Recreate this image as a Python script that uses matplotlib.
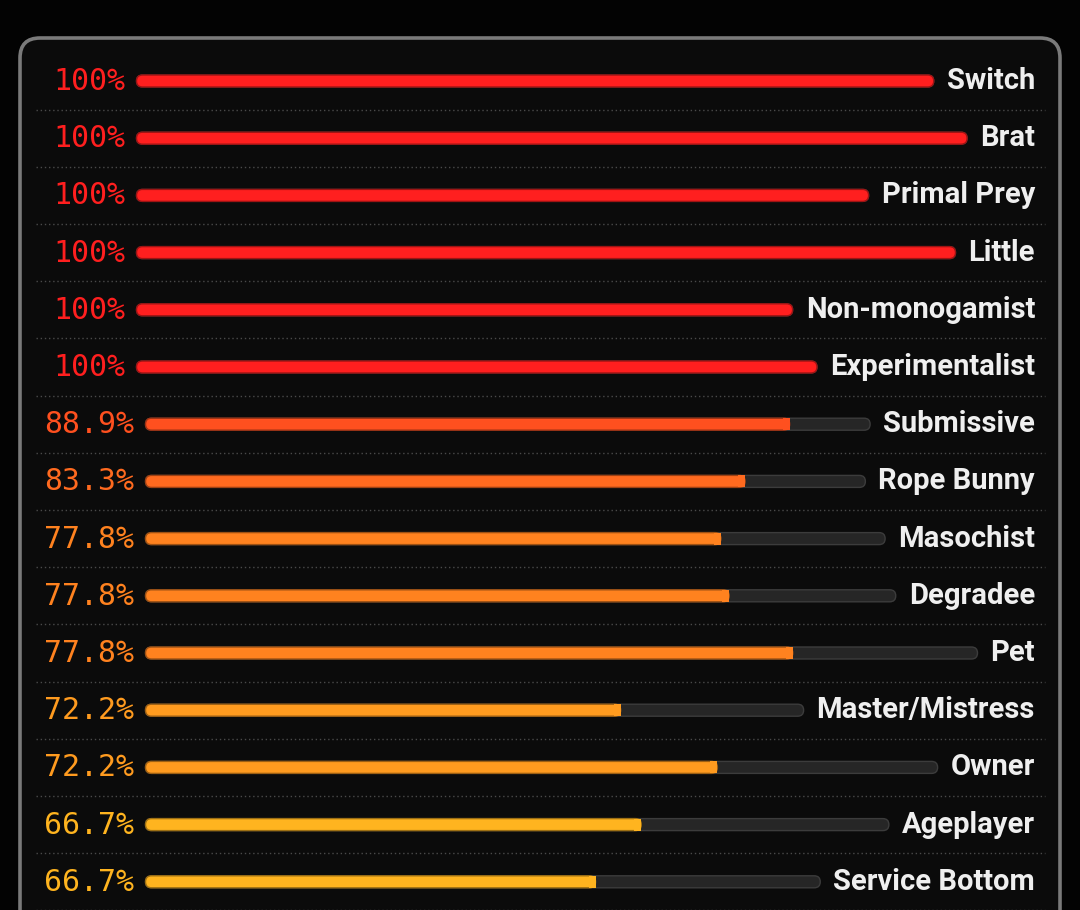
import colorsys
import matplotlib
matplotlib.use("Agg")
import matplotlib.pyplot as plt
from matplotlib.patches import FancyBboxPatch, Rectangle

# data
categories = ["Switch", "Brat", "Primal Prey", "Little", "Non-monogamist",
              "Experimentalist", "Submissive", "Rope Bunny", "Masochist",
              "Degradee", "Pet", "Master/Mistress", "Owner", "Ageplayer",
              "Service Bottom"]
percents = [100, 100, 100, 100, 100, 100, 88.9, 83.3, 77.8, 77.8, 77.8,
            72.2, 72.2, 66.7, 66.7]


def pct_label(p):
    return "100%" if p >= 100 else f"{p:.1f}%"


def pct_color(p, v=1.0):
    # red at 100%, sliding to amber at lower scores
    h = (100 - p) * 1.2 / 360.0
    r, g, b = colorsys.hsv_to_rgb(h, 0.88, v)
    return (r, g, b)


W, H = 1080, 910
fig = plt.figure(figsize=(W / 100, H / 100), dpi=100)
fig.patch.set_facecolor("#030303")
ax = fig.add_axes([0, 0, 1, 1])
ax.set_xlim(0, W)
ax.set_ylim(H, 0)
ax.axis("off")

# panel
panel = FancyBboxPatch((20, 38), 1040, 940,
                       boxstyle="round,pad=0,rounding_size=20",
                       facecolor="#0b0b0b", edgecolor="#7a7a7a",
                       linewidth=2.6, zorder=1)
ax.add_patch(panel)

renderer = fig.canvas.get_renderer()
row_h = 57.2
y0 = 81
label_right = 1035
pct_center = 89.5
bar_h = 12
r = bar_h / 2

for i, (cat, p) in enumerate(zip(categories, percents)):
    y = y0 + i * row_h
    col = pct_color(p)

    pt = ax.text(pct_center, y + 0.5, pct_label(p), ha="center", va="center",
                 fontsize=21.5, family="DejaVu Sans Mono", color=col, zorder=5)
    ct = ax.text(label_right, y, cat, ha="right", va="center",
                 fontsize=21, family="Roboto", weight="bold",
                 color="#efefef", zorder=5)

    pbox = pt.get_window_extent(renderer)
    cbox = ct.get_window_extent(renderer)
    x_start = pbox.x1 + 11
    x_end = cbox.x0 - 13

    # track
    track = FancyBboxPatch((x_start, y - r), x_end - x_start, bar_h,
                           boxstyle=f"round,pad=0,rounding_size={r}",
                           facecolor="#262626", edgecolor="#3c3c3c",
                           linewidth=1.0, zorder=2)
    ax.add_patch(track)

    # fill
    fw = (x_end - x_start) * p / 100.0
    edge = pct_color(p, 0.62)
    fill = FancyBboxPatch((x_start, y - r), fw, bar_h,
                          boxstyle=f"round,pad=0,rounding_size={r}",
                          facecolor=col, edgecolor=edge, linewidth=1.0,
                          zorder=3)
    ax.add_patch(fill)
    if p < 100:
        ax.add_patch(Rectangle((x_start + fw - r - 1, y - r), r + 1, bar_h,
                               facecolor=col, edgecolor="none", zorder=3.5))

    # dotted separator
    ys = y + row_h / 2
    ax.plot([36, 1045], [ys, ys], color="#4a4a4a", linewidth=1.0,
            linestyle=(0, (1, 2)), zorder=2)

fig.savefig("out.png", dpi=100, facecolor=fig.get_facecolor())
